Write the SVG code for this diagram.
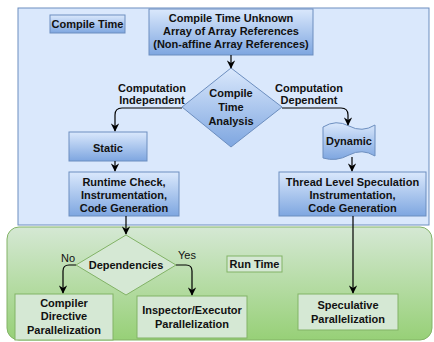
<svg xmlns="http://www.w3.org/2000/svg" width="434" height="342" viewBox="0 0 434 342">
<defs>
<linearGradient id="gb" x1="0" y1="0" x2="0" y2="1"><stop offset="0" stop-color="#dae8fc"/><stop offset="1" stop-color="#7ea6e0"/></linearGradient>
<linearGradient id="gg" x1="0" y1="0" x2="0" y2="1"><stop offset="0" stop-color="#d5e8d4"/><stop offset="1" stop-color="#97d077"/></linearGradient>
<marker id="ah" viewBox="0 0 10 10" refX="9" refY="5" markerWidth="7" markerHeight="7" orient="auto"><path d="M0,0 L10,5 L0,10 L3,5 z" fill="#000"/></marker>
</defs>
<style>
text{font-family:"Liberation Sans",Arial,sans-serif;font-size:11px;font-weight:bold;text-anchor:middle;fill:#111}
.b{fill:url(#gb);stroke:#6c8ebf;stroke-width:1}
.g{fill:#d5e8d4;stroke:#82b366;stroke-width:1}
.c{fill:none;stroke:#000;stroke-width:1.2;marker-end:url(#ah)}
.n{font-weight:normal}
</style>
<rect width="434" height="342" fill="#fff"/>
<g id="compile-region"><rect x="18" y="8" width="411" height="217" fill="#dae8fc" stroke="#6c8ebf"/></g>
<g id="run-region"><rect x="7" y="227" width="425" height="113" rx="12" fill="url(#gg)" stroke="#82b366"/></g>
<g id="compile-time-label"><rect class="b" x="50" y="15" width="75" height="18"/><text x="87.5" y="28">Compile Time</text></g>
<g id="top"><rect class="b" x="149" y="9" width="164" height="46"/><text x="231" y="22">Compile Time Unknown</text><text x="231" y="35">Array of Array References</text><text x="231" y="48">(Non-affine Array References)</text></g>
<g id="analysis"><polygon class="b" points="231,68 282,107 231,147 182,107"/><text x="231" y="97">Compile</text><text x="231" y="111">Time</text><text x="231" y="125">Analysis</text></g>
<g id="static"><rect class="b" x="69" y="132" width="78" height="29"/><text x="108" y="152">Static</text></g>
<g id="dynamic"><path class="b" d="M323,127 Q336,119 349,126 Q362,133 375,125 L375,156 Q362,148 349,155 Q336,162 323,158 Z"/><text x="349" y="145">Dynamic</text></g>
<g id="runtime-check"><rect class="b" x="69" y="172" width="110" height="44"/><text x="124" y="186">Runtime Check,</text><text x="124" y="199">Instrumentation,</text><text x="124" y="212">Code Generation</text></g>
<g id="tls"><rect class="b" x="279" y="172" width="147" height="44"/><text x="352.5" y="186">Thread Level Speculation</text><text x="352.5" y="199">Instrumentation,</text><text x="352.5" y="212">Code Generation</text></g>
<g id="dependencies"><polygon class="g" points="126,235 176,265 126,295 76,265"/><text x="126" y="269">Dependencies</text></g>
<g id="run-time-label"><rect class="g" x="227" y="256" width="55" height="16"/><text x="254.5" y="268">Run Time</text></g>
<g id="compiler-directive"><rect class="g" x="15" y="294" width="98" height="46"/><text x="64" y="307">Compiler</text><text x="64" y="320">Directive</text><text x="64" y="334">Parallelization</text></g>
<g id="inspector"><rect class="g" x="137" y="296" width="110" height="42"/><text x="192" y="314">Inspector/Executor</text><text x="192" y="328">Parallelization</text></g>
<g id="speculative"><rect class="g" x="298" y="294" width="100" height="36"/><text x="348" y="309">Speculative</text><text x="348" y="323">Parallelization</text></g>
<g id="connectors">
<path class="c" d="M231,55 L231,68"/>
<path class="c" d="M182,108 L122,108 Q115,108 115,115 L115,131"/>
<path class="c" d="M282,108 L341,108 Q348,108 348,115 L348,125"/>
<path class="c" d="M115,161 L115,171"/>
<path class="c" d="M352,157 L352,171"/>
<path class="c" d="M126,216 L126,234"/>
<path class="c" d="M353,216 L353,293"/>
<path class="c" d="M76,265 L69,265 Q63,265 63,271 L63,293"/>
<path class="c" d="M176,265 L186,265 Q192,265 192,271 L192,295"/>
<text x="152" y="92">Computation</text><text x="152" y="104">Independent</text>
<text x="309" y="92">Computation</text><text x="309" y="104">Dependent</text>
<text class="n" x="68" y="262">No</text><text class="n" x="187" y="259">Yes</text>
</g>
</svg>
